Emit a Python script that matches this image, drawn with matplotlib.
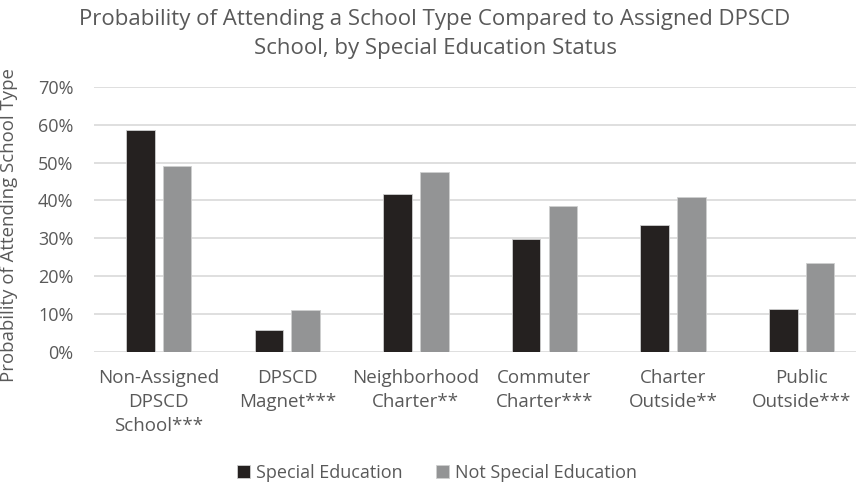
import matplotlib
matplotlib.use('Agg')
import matplotlib.pyplot as plt
import numpy as np
from matplotlib.ticker import PercentFormatter

plt.rcParams['font.family'] = ['Open Sans', 'DejaVu Sans']

# ------ Data ------
categories = ['Non-Assigned\nDPSCD\nSchool***', 'DPSCD\nMagnet***', 'Neighborhood\nCharter**',
              'Commuter\nCharter***', 'Charter\nOutside**', 'Public\nOutside***']
special_ed = [58.6, 5.9, 41.6, 29.7, 33.5, 11.4]
not_special_ed = [49.1, 11.2, 47.6, 38.6, 40.9, 23.5]
yticks = [0, 10, 20, 30, 40, 50, 60, 70]

txt = '#595959'
grid = '#d9d9d9'

fig = plt.figure(figsize=(8.56, 4.88), dpi=100)
ax = fig.add_axes([0.1102, 0.2787, 0.9015, 0.5436])

x = np.arange(len(categories))
w = 0.223
off = 0.143
ax.bar(x - off, special_ed, width=w, color='#252120', edgecolor='#cfcfcf', linewidth=0.6,
       label='Special Education', zorder=3)
ax.bar(x + off, not_special_ed, width=w, color='#939495', edgecolor='#cfcfcf', linewidth=0.6,
       label='Not Special Education', zorder=3)

ax.set_xlim(-0.5, len(categories) - 0.5)
ax.set_ylim(0, 70)
ax.set_yticks(yticks)
ax.yaxis.set_major_formatter(PercentFormatter(decimals=0))
ax.grid(axis='y', color=grid, lw=1.2, zorder=0)
for s in ax.spines.values():
    s.set_visible(False)
ax.tick_params(axis='both', length=0, colors=txt, labelsize=13)
ax.tick_params(axis='y', pad=15)
ax.set_xticks(x)
ax.set_xticklabels(categories, fontsize=13.5, linespacing=1.45)
ax.tick_params(axis='x', pad=12)

ax.set_ylabel('Probability of Attending School Type', color=txt, fontsize=13.4)
ax.yaxis.set_label_coords(-0.099, 0.48)

fig.text(435 / 856, 1 - 34 / 488,
         'Probability of Attending a School Type Compared to Assigned DPSCD\nSchool, by Special Education Status',
         ha='center', va='center', color=txt, fontsize=16, linespacing=1.55)

fig.legend(loc='center', bbox_to_anchor=(437 / 856, 1 - 473 / 488), ncol=2, frameon=False,
           handlelength=0.7, handleheight=0.7, handletextpad=0.3, columnspacing=1.9,
           labelcolor=txt, fontsize=13)

fig.savefig('out.png', dpi=100)
